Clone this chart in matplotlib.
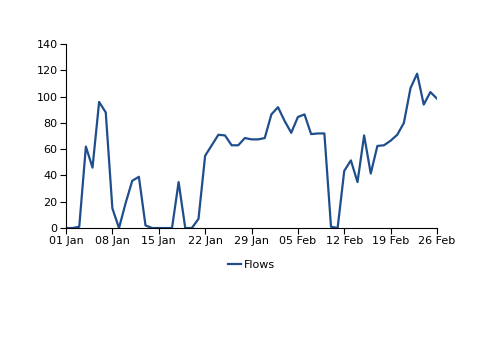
import numpy as np
import pandas as pd
import matplotlib
matplotlib.use("Agg")
import matplotlib.pyplot as plt
import matplotlib.dates as mdates

dates = pd.date_range("2024-01-01", "2024-02-26", freq="D")
flows = [0, 0, 1, 62, 46, 96, 88, 15, 0, 19, 36, 39, 2, 0, 0, 0, 0, 35, 0, 0,
         7, 55, 63, 71, 70.5, 63, 63, 68.5, 67.5, 67.5, 68.5, 86.5, 92, 81.5, 72.5, 84.5, 86.5, 71.5, 72, 72,
         1, 0, 43.5, 51.5, 35, 70.5, 41.5, 62.5, 63, 66.5, 71, 80, 106.5, 117.5, 94, 103.5, 98.5]
tick_dates = pd.date_range("2024-01-01", "2024-02-26", freq="7D")

plt.rcParams["font.family"] = "DejaVu Sans"
plt.rcParams["font.size"] = 8

fig = plt.figure(figsize=(5, 3.53), dpi=100)
ax = fig.add_axes([0.132, 0.354, 0.742, 0.521])

ax.plot(dates, flows, color="#1f4e8c", lw=1.6, label="Flows")

ax.set_ylim(0, 140)
ax.set_yticks(range(0, 141, 20))
ax.set_xlim(dates[0], dates[-1])
ax.set_xticks(tick_dates)
ax.xaxis.set_major_formatter(mdates.DateFormatter("%d %b"))

for s in ["top", "right"]:
    ax.spines[s].set_visible(False)
ax.tick_params(length=4, width=0.8, pad=2, colors="black")

ax.legend(loc="upper center", bbox_to_anchor=(0.5, -0.12), frameon=False,
          handlelength=1.2, handletextpad=0.2)

fig.savefig("out.png", dpi=100)
